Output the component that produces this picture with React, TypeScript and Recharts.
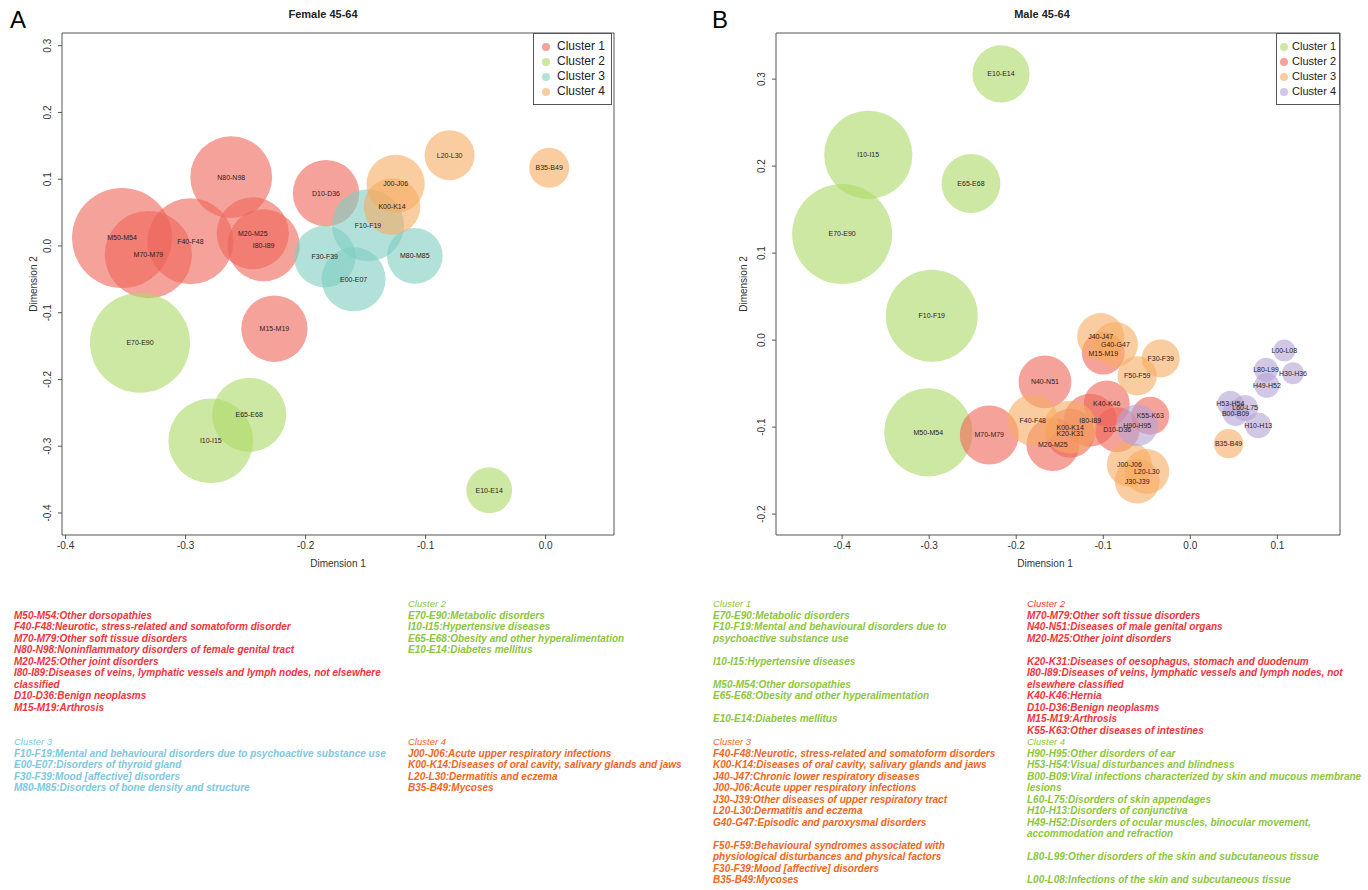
import { LabelList, ReferenceArea, Scatter, ScatterChart, XAxis, YAxis, ZAxis } from "recharts";

const FONT = '"Liberation Sans", Arial, Helvetica, sans-serif';

// [label, dimension 1, dimension 2, weight]
type Bubble = [string, number, number, number];

const femaleCluster1: Bubble[] = [
  ["M50-M54", -0.353, 0.012, 100],
  ["M70-M79", -0.331, -0.013, 76],
  ["F40-F48", -0.296, 0.007, 74],
  ["N80-N98", -0.262, 0.103, 67],
  ["M20-M25", -0.244, 0.019, 52],
  ["I80-I89", -0.235, 0.001, 52],
  ["D10-D36", -0.183, 0.079, 44],
  ["M15-M19", -0.226, -0.124, 44],
];
const femaleCluster2: Bubble[] = [
  ["E70-E90", -0.338, -0.145, 100],
  ["I10-I15", -0.279, -0.292, 72],
  ["E65-E68", -0.247, -0.253, 55],
  ["E10-E14", -0.047, -0.366, 21],
];
const femaleCluster3: Bubble[] = [
  ["F10-F19", -0.148, 0.031, 52],
  ["E00-E07", -0.16, -0.05, 41],
  ["F30-F39", -0.184, -0.016, 38],
  ["M80-M85", -0.109, -0.015, 31],
];
const femaleCluster4: Bubble[] = [
  ["J00-J06", -0.125, 0.093, 34],
  ["K00-K14", -0.128, 0.059, 32],
  ["L20-L30", -0.08, 0.136, 25],
  ["B35-B49", 0.003, 0.117, 16],
];

const maleCluster1: Bubble[] = [
  ["E10-E14", -0.2175, 0.306, 34],
  ["I10-I15", -0.37, 0.213, 81],
  ["E65-E68", -0.252, 0.18, 36],
  ["E70-E90", -0.4, 0.122, 104],
  ["F10-F19", -0.297, 0.028, 88],
  ["M50-M54", -0.301, -0.106, 81],
];
const maleCluster2: Bubble[] = [
  ["M70-M79", -0.231, -0.109, 36],
  ["N40-N51", -0.167, -0.048, 29],
  ["M20-M25", -0.158, -0.12, 29],
  ["K20-K31", -0.138, -0.107, 25],
  ["I80-I89", -0.115, -0.092, 29],
  ["K40-K46", -0.096, -0.073, 22],
  ["D10-D36", -0.084, -0.103, 21],
  ["M15-M19", -0.1, -0.015, 19],
  ["K55-K63", -0.046, -0.087, 15],
];
const maleCluster3: Bubble[] = [
  ["F40-F48", -0.181, -0.092, 27],
  ["K00-K14", -0.138, -0.1, 29],
  ["J40-J47", -0.103, 0.004, 23],
  ["G40-G47", -0.086, -0.005, 21],
  ["F50-F59", -0.061, -0.041, 16],
  ["F30-F39", -0.034, -0.021, 15],
  ["J00-J06", -0.07, -0.143, 21],
  ["J30-J39", -0.061, -0.162, 21],
  ["L20-L30", -0.05, -0.151, 21],
  ["B35-B49", 0.044, -0.119, 9],
];
const maleCluster4: Bubble[] = [
  ["H90-H95", -0.061, -0.098, 18],
  ["H53-H54", 0.046, -0.073, 7],
  ["B00-B09", 0.052, -0.084, 7],
  ["L60-L75", 0.063, -0.078, 7],
  ["H10-H13", 0.078, -0.098, 7],
  ["H49-H52", 0.088, -0.052, 6.5],
  ["L80-L99", 0.087, -0.034, 6],
  ["H30-H36", 0.118, -0.038, 5],
  ["L00-L08", 0.108, -0.012, 5],
];

const femaleTicksX = [-0.4, -0.3, -0.2, -0.1, 0.0];
const femaleTicksY = [-0.4, -0.3, -0.2, -0.1, 0.0, 0.1, 0.2, 0.3];
const maleTicksX = [-0.4, -0.3, -0.2, -0.1, 0.0, 0.1];
const maleTicksY = [-0.2, -0.1, 0.0, 0.1, 0.2, 0.3];

const clusterNames = ["Cluster 1", "Cluster 2", "Cluster 3", "Cluster 4"];

const RED = "#ee6458";
const GREEN = "#acd966";
const TEAL = "#7fcdc1";
const ORANGE = "#f7ac61";
const PURPLE = "#b4a3d5";

// note text colours
const T_RED = "#f2333b";
const T_GREEN = "#8cc63e";
const T_BLUE = "#7dc8de";
const T_ORANGE = "#f26522";

const femaleNotes1 = [
  "M50-M54:Other dorsopathies",
  "F40-F48:Neurotic, stress-related and somatoform disorder",
  "M70-M79:Other soft tissue disorders",
  "N80-N98:Noninflammatory disorders of female genital tract",
  "M20-M25:Other joint disorders",
  "I80-I89:Diseases of veins, lymphatic vessels and lymph nodes, not elsewhere",
  "classified",
  "D10-D36:Benign neoplasms",
  "M15-M19:Arthrosis",
];
const femaleNotes2 = [
  "E70-E90:Metabolic disorders",
  "I10-I15:Hypertensive diseases",
  "E65-E68:Obesity and other hyperalimentation",
  "E10-E14:Diabetes mellitus",
];
const femaleNotes3 = [
  "F10-F19:Mental and behavioural disorders due to psychoactive substance use",
  "E00-E07:Disorders of thyroid gland",
  "F30-F39:Mood [affective] disorders",
  "M80-M85:Disorders of bone density and structure",
];
const femaleNotes4 = [
  "J00-J06:Acute upper respiratory infections",
  "K00-K14:Diseases of oral cavity, salivary glands and jaws",
  "L20-L30:Dermatitis and eczema",
  "B35-B49:Mycoses",
];
const maleNotes1 = [
  "E70-E90:Metabolic disorders",
  "F10-F19:Mental and behavioural disorders due to",
  "psychoactive substance use",
  "",
  "I10-I15:Hypertensive diseases",
  "",
  "M50-M54:Other dorsopathies",
  "E65-E68:Obesity and other hyperalimentation",
  "",
  "E10-E14:Diabetes mellitus",
];
const maleNotes2 = [
  "M70-M79:Other soft tissue disorders",
  "N40-N51:Diseases of male genital organs",
  "M20-M25:Other joint disorders",
  "",
  "K20-K31:Diseases of oesophagus, stomach and duodenum",
  "I80-I89:Diseases of veins, lymphatic vessels and lymph nodes, not",
  "elsewhere classified",
  "K40-K46:Hernia",
  "D10-D36:Benign neoplasms",
  "M15-M19:Arthrosis",
  "K55-K63:Other diseases of intestines",
];
const maleNotes3 = [
  "F40-F48:Neurotic, stress-related and somatoform disorders",
  "K00-K14:Diseases of oral cavity, salivary glands and jaws",
  "J40-J47:Chronic lower respiratory diseases",
  "J00-J06:Acute upper respiratory infections",
  "J30-J39:Other diseases of upper respiratory tract",
  "L20-L30:Dermatitis and eczema",
  "G40-G47:Episodic and paroxysmal disorders",
  "",
  "F50-F59:Behavioural syndromes associated with",
  "physiological disturbances and physical factors",
  "F30-F39:Mood [affective] disorders",
  "B35-B49:Mycoses",
];
const maleNotes4 = [
  "H90-H95:Other disorders of ear",
  "H53-H54:Visual disturbances and blindness",
  "B00-B09:Viral infections characterized by skin and mucous membrane",
  "lesions",
  "L60-L75:Disorders of skin appendages",
  "H10-H13:Disorders of conjunctiva",
  "H49-H52:Disorders of ocular muscles, binocular movement,",
  "accommodation and refraction",
  "",
  "L80-L99:Other disorders of the skin and subcutaneous tissue",
  "",
  "L00-L08:Infections of the skin and subcutaneous tissue",
];

const toPoints = (rows: Bubble[]) => rows.map(([name, x, y, w]) => ({ name, x, y, w }));

const YTick = ({ x, y, payload }: any) => (
  <text
    transform={`translate(${x - 1},${y}) rotate(-90)`}
    textAnchor="middle"
    fontSize={10}
    fill="#333"
    fontFamily={FONT}
  >
    {Number(payload.value).toFixed(1)}
  </text>
);

interface PanelProps {
  left: number;
  width: number;
  marginLeft: number;
  marginRight: number;
  xDomain: [number, number];
  yDomain: [number, number];
  xTicks: number[];
  yTicks: number[];
  clusters: { rows: Bubble[]; color: string; name: string }[];
}

const Panel = ({ left, width, marginLeft, marginRight, xDomain, yDomain, xTicks, yTicks, clusters }: PanelProps) => {
  const allPoints = clusters.flatMap((c) => toPoints(c.rows));
  return (
    <div style={{ position: "absolute", left, top: 0 }}>
      <ScatterChart
        width={width}
        height={600}
        margin={{ top: 33, right: marginRight, bottom: 35, left: marginLeft }}
      >
        <XAxis
          type="number"
          dataKey="x"
          domain={xDomain}
          ticks={xTicks}
          allowDataOverflow
          axisLine={false}
          tickLine={{ stroke: "#555" }}
          tickSize={4}
          tickMargin={3}
          height={30}
          tick={{ fontSize: 10, fill: "#333", fontFamily: FONT }}
          tickFormatter={(v: number) => v.toFixed(1)}
        />
        <YAxis
          type="number"
          dataKey="y"
          domain={yDomain}
          ticks={yTicks}
          allowDataOverflow
          axisLine={false}
          tickLine={{ stroke: "#555" }}
          tickSize={4}
          tickMargin={6}
          width={30}
          tick={<YTick />}
        />
        <ZAxis type="number" dataKey="w" domain={[0, 100]} range={[0, Math.PI * 2500]} />
        {clusters.map((c) => (
          <Scatter
            key={c.name}
            name={c.name}
            data={toPoints(c.rows)}
            fill={c.color}
            fillOpacity={0.6}
            isAnimationActive={false}
          />
        ))}
        <Scatter data={allPoints} fill="none" legendType="none" isAnimationActive={false}>
          <LabelList dataKey="name" position="center" fontSize={7} fill="#2b2222" fontFamily={FONT} />
        </Scatter>
        <ReferenceArea
          x1={xDomain[0]}
          x2={xDomain[1]}
          y1={yDomain[0]}
          y2={yDomain[1]}
          fill="none"
          stroke="#555"
          strokeWidth={1}
          ifOverflow="visible"
        />
      </ScatterChart>
    </div>
  );
};

interface LegendBoxProps {
  left: number;
  top: number;
  fontSize: number;
  pad: string;
  gap: number;
  items: { name: string; color: string }[];
}

const LegendBox = ({ left, top, fontSize, pad, gap, items }: LegendBoxProps) => (
  <div
    style={{
      position: "absolute",
      left,
      top,
      border: "1px solid #555",
      background: "#fff",
      padding: pad,
      fontSize,
      lineHeight: "15px",
      color: "#222",
    }}
  >
    {items.map((it) => (
      <div key={it.name} style={{ display: "flex", alignItems: "center", whiteSpace: "nowrap" }}>
        <span
          style={{
            display: "inline-block",
            width: 8,
            height: 8,
            borderRadius: "50%",
            background: it.color,
            opacity: 0.6,
            marginRight: gap,
          }}
        />
        {it.name}
      </div>
    ))}
  </div>
);

type NoteLine = { text: string; color: string; header?: boolean };

const block = (header: string | null, lines: string[], color: string): NoteLine[] => [
  ...(header ? [{ text: header, color, header: true }] : []),
  ...lines.map((text) => ({ text, color })),
];
const blanks = (n: number): NoteLine[] => Array.from({ length: n }, () => ({ text: "", color: "#000" }));

const NoteColumn = ({ left, lines }: { left: number; lines: NoteLine[] }) => (
  <div style={{ position: "absolute", left, top: 598, lineHeight: "11.5px", fontStyle: "italic" }}>
    {lines.map((l, i) => (
      <div
        key={i}
        style={{
          color: l.color,
          whiteSpace: "nowrap",
          height: 11.5,
          fontSize: l.header ? 9.5 : 10,
          fontWeight: l.header ? "normal" : "bold",
        }}
      >
        {l.text || "\u00a0"}
      </div>
    ))}
  </div>
);

const centered: React.CSSProperties = { position: "absolute", transform: "translate(-50%, -50%)", whiteSpace: "nowrap" };

export default function App() {
  const female = [
    { rows: femaleCluster1, color: RED, name: clusterNames[0] },
    { rows: femaleCluster2, color: GREEN, name: clusterNames[1] },
    { rows: femaleCluster3, color: TEAL, name: clusterNames[2] },
    { rows: femaleCluster4, color: ORANGE, name: clusterNames[3] },
  ];
  const male = [
    { rows: maleCluster1, color: GREEN, name: clusterNames[0] },
    { rows: maleCluster2, color: RED, name: clusterNames[1] },
    { rows: maleCluster3, color: ORANGE, name: clusterNames[2] },
    { rows: maleCluster4, color: PURPLE, name: clusterNames[3] },
  ];

  return (
    <div
      style={{
        position: "absolute",
        left: 0,
        top: 0,
        width: 1368,
        height: 890,
        overflow: "hidden",
        background: "#fff",
        fontFamily: FONT,
      }}
    >
      <div style={{ position: "absolute", left: 10, top: 6, fontSize: 24 }}>A</div>
      <div style={{ position: "absolute", left: 712, top: 6, fontSize: 24 }}>B</div>

      <Panel
        left={0}
        width={640}
        marginLeft={32}
        marginRight={26}
        xDomain={[-0.403, 0.057]}
        yDomain={[-0.433, 0.319]}
        xTicks={femaleTicksX}
        yTicks={femaleTicksY}
        clusters={female}
      />
      <Panel
        left={700}
        width={668}
        marginLeft={46}
        marginRight={28}
        xDomain={[-0.476, 0.172]}
        yDomain={[-0.224, 0.353]}
        xTicks={maleTicksX}
        yTicks={maleTicksY}
        clusters={male}
      />

      <div style={{ ...centered, left: 323, top: 14, fontSize: 11, fontWeight: "bold", color: "#222" }}>Female 45-64</div>
      <div style={{ ...centered, left: 1042, top: 14, fontSize: 11, fontWeight: "bold", color: "#222" }}>Male 45-64</div>
      <div style={{ ...centered, left: 338, top: 563, fontSize: 10, color: "#333" }}>Dimension 1</div>
      <div style={{ ...centered, left: 1045, top: 563, fontSize: 10, color: "#333" }}>Dimension 1</div>
      <div style={{ ...centered, left: 33, top: 284, fontSize: 10, color: "#333", transform: "translate(-50%, -50%) rotate(-90deg)" }}>
        Dimension 2
      </div>
      <div style={{ ...centered, left: 743, top: 284, fontSize: 10, color: "#333", transform: "translate(-50%, -50%) rotate(-90deg)" }}>
        Dimension 2
      </div>

      <LegendBox left={533} top={33} fontSize={12} pad="5px 6px 5px 8px" gap={7} items={female.map((c) => ({ name: c.name, color: c.color }))} />
      <LegendBox left={1276} top={33} fontSize={11} pad="5px 3px 5px 3px" gap={4} items={male.map((c) => ({ name: c.name, color: c.color }))} />

      <NoteColumn
        left={14}
        lines={[...blanks(1), ...block(null, femaleNotes1, T_RED), ...blanks(2), ...block("Cluster 3", femaleNotes3, T_BLUE)]}
      />
      <NoteColumn
        left={408}
        lines={[...block("Cluster 2", femaleNotes2, T_GREEN), ...blanks(7), ...block("Cluster 4", femaleNotes4, T_ORANGE)]}
      />
      <NoteColumn
        left={713}
        lines={[...block("Cluster 1", maleNotes1, T_GREEN), ...blanks(1), ...block("Cluster 3", maleNotes3, T_ORANGE)]}
      />
      <NoteColumn
        left={1027}
        lines={[...block("Cluster 2", maleNotes2, T_RED), ...block("Cluster 4", maleNotes4, T_GREEN)]}
      />
    </div>
  );
}
